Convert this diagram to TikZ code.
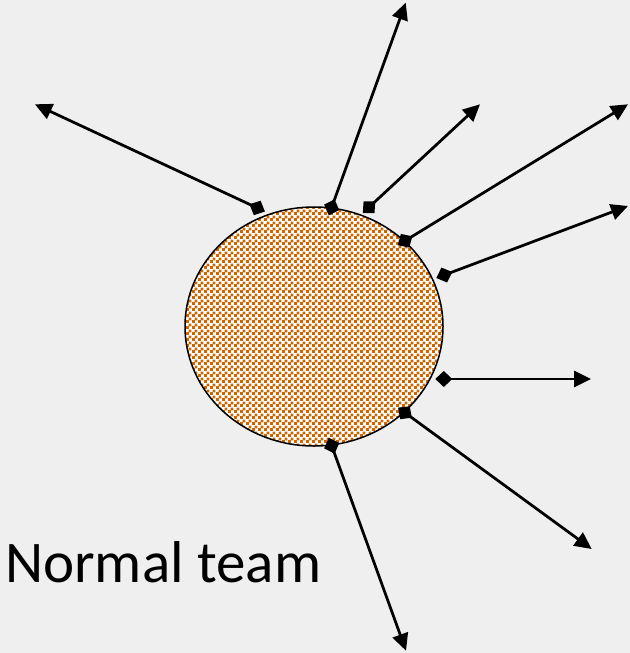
\documentclass[tikz,border=0pt]{standalone}
\usepackage{fontspec}
\setmainfont{Carlito}
\usetikzlibrary{
	positioning,
	arrows.meta,
	shapes.geometric,
	patterns
}
\definecolor{SlideGrey}{RGB}{239,239,239}
\definecolor{TeamOrange}{RGB}{204,102,0}

% small checks, like the office fill
\pgfdeclarepatternformonly{teamchecks}{\pgfpointorigin}{\pgfqpoint{6bp}{6bp}}{\pgfqpoint{6bp}{6bp}}{
	\pgfpathrectangle{\pgfpointorigin}{\pgfqpoint{3.3bp}{3.3bp}}
	\pgfpathrectangle{\pgfqpoint{3bp}{3bp}}{\pgfqpoint{3.3bp}{3.3bp}}
	\pgfusepath{fill}
}

\tikzset{
	link/.style={
		line width=2.75bp,
		{Diamond[length=17bp,width=16bp]}-{Triangle[length=17bp,width=16bp]}
	},
	team/.style={
		ellipse,
		draw,
		line width=1.5bp,
		inner sep=0pt,
		minimum width=258bp,
		minimum height=239bp,
		preaction={fill=white},
		pattern=teamchecks,
		pattern color=TeamOrange
	}
}

\begin{document}
\begin{tikzpicture}[x=1bp,y=-1bp]

	\fill[SlideGrey] (0,0) rectangle (630,653);
	\useasboundingbox (0,0) rectangle (630,653);

	\node[team] (core) at (314,326.5) {};

	% where the lines leave the team
	\coordinate (s1) at (264.9,211.5);
	\coordinate (s2) at (328.8,215.3);
	\coordinate (s3) at (362.8,213);
	\coordinate (s4) at (397.8,245.2);
	\coordinate (s5) at (436.3,278);
	\coordinate (s6) at (435.3,379);
	\coordinate (s7) at (398.1,407.7);
	\coordinate (s8) at (328.8,437.7);

	% where they point to
	\coordinate (t1) at (35,104.3);
	\coordinate (t2) at (405.7,2.7);
	\coordinate (t3) at (480,104.3);
	\coordinate (t4) at (628,104.3);
	\coordinate (t5) at (628,206);
	\coordinate (t6) at (591,379);
	\coordinate (t7) at (591.7,549);
	\coordinate (t8) at (406,650.7);

	\foreach \i in {1,...,8}
		\draw[link] (s\i) -- (t\i);

	\node[
	anchor=base west,
	inner sep=0pt,
	font=\fontsize{59bp}{61bp}\selectfont
	]
	(caption) at (5,582)
	{Normal team};

\end{tikzpicture}
\end{document}
